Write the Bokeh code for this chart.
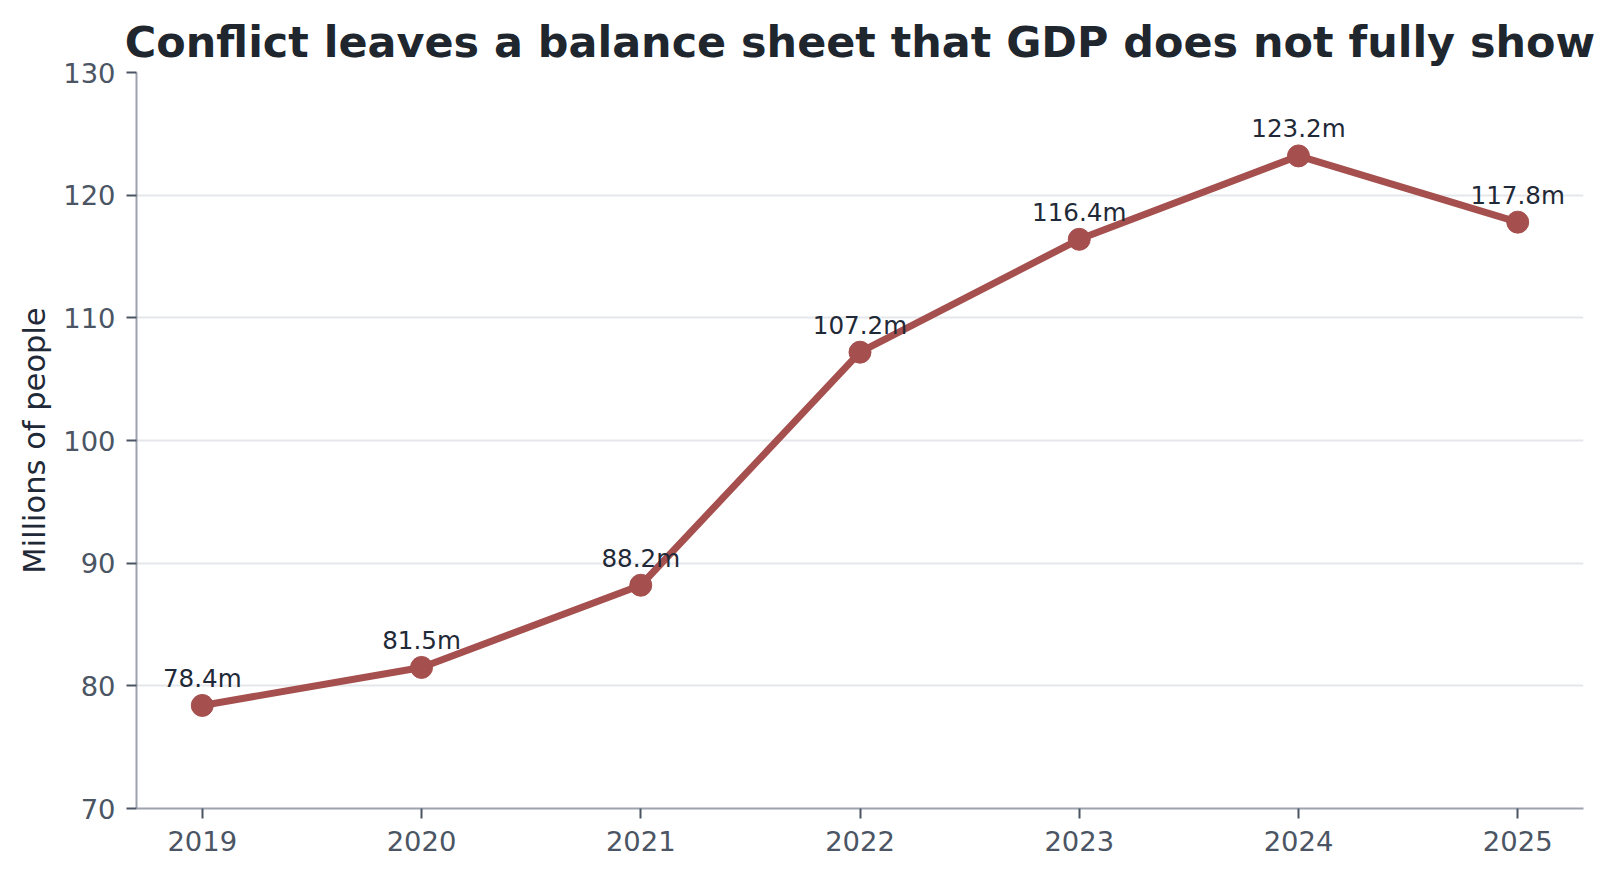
from bokeh.plotting import figure
from bokeh.models import ColumnDataSource, Range1d, FixedTicker, Title
from bokeh.embed import file_html
from bokeh.resources import INLINE
from bokeh.core.properties import value

years = [2019, 2020, 2021, 2022, 2023, 2024, 2025]
people_m = [78.4, 81.5, 88.2, 107.2, 116.4, 123.2, 117.8]
point_labels = ["78.4m", "81.5m", "88.2m", "107.2m", "116.4m", "123.2m", "117.8m"]
y_ticks = [70, 80, 90, 100, 110, 120, 130]

title_text = "Conflict leaves a balance sheet that GDP does not fully show"
y_label = "Millions of people"

LINE = "#a5504e"
FONT = "DejaVu Sans"

src = ColumnDataSource(dict(x=years, y=people_m, lab=point_labels))

p = figure(width=1600, height=863, output_backend="svg", toolbar_location=None,
           x_range=Range1d(2018.7, 2025.3), y_range=Range1d(70, 130),
           min_border_left=136, min_border_right=17, min_border_top=72, min_border_bottom=55,
           background_fill_color="white", border_fill_color="white")
p.outline_line_color = None

p.title = Title(text=title_text, align="center", text_font=FONT, text_font_size="42.9px",
                text_font_style="bold", text_color="#20262e", standoff=11)

# grid
p.xgrid.grid_line_color = None
p.ygrid.grid_line_color = "#e5e7eb"
p.ygrid.grid_line_width = 2
p.ygrid.ticker = FixedTicker(ticks=y_ticks)

for ax in (p.xaxis[0], p.yaxis[0]):
    ax.axis_line_color = "#9ca3af"
    ax.axis_line_width = 2
    ax.major_tick_line_color = "#4b5563"
    ax.major_tick_line_width = 2
    ax.major_tick_out = 10
    ax.major_tick_in = 0
    ax.minor_tick_line_color = None
    ax.major_label_text_font = FONT
    ax.major_label_text_font_size = "27.4px"
    ax.major_label_text_color = "#4b5563"

p.xaxis[0].ticker = FixedTicker(ticks=years)
p.xaxis[0].major_label_standoff = 12
p.yaxis[0].ticker = FixedTicker(ticks=y_ticks)
p.yaxis[0].major_label_standoff = 11
p.yaxis[0].axis_label = y_label
p.yaxis[0].axis_label_text_font = FONT
p.yaxis[0].axis_label_text_font_size = "30.5px"
p.yaxis[0].axis_label_text_font_style = "normal"
p.yaxis[0].axis_label_text_color = "#1f2937"
p.yaxis[0].axis_label_standoff = 8

p.line("x", "y", source=src, line_color=LINE, line_width=7, line_join="round")
p.scatter("x", "y", source=src, size=22, fill_color=LINE, line_color=LINE)

p.text("x", "y", text="lab", source=src, y_offset=-27, text_align="center",
       text_baseline="alphabetic", text_font=value(FONT), text_font_size="24.6px",
       text_color="#1f2937")

open("out.html", "w").write(file_html(p, INLINE))
